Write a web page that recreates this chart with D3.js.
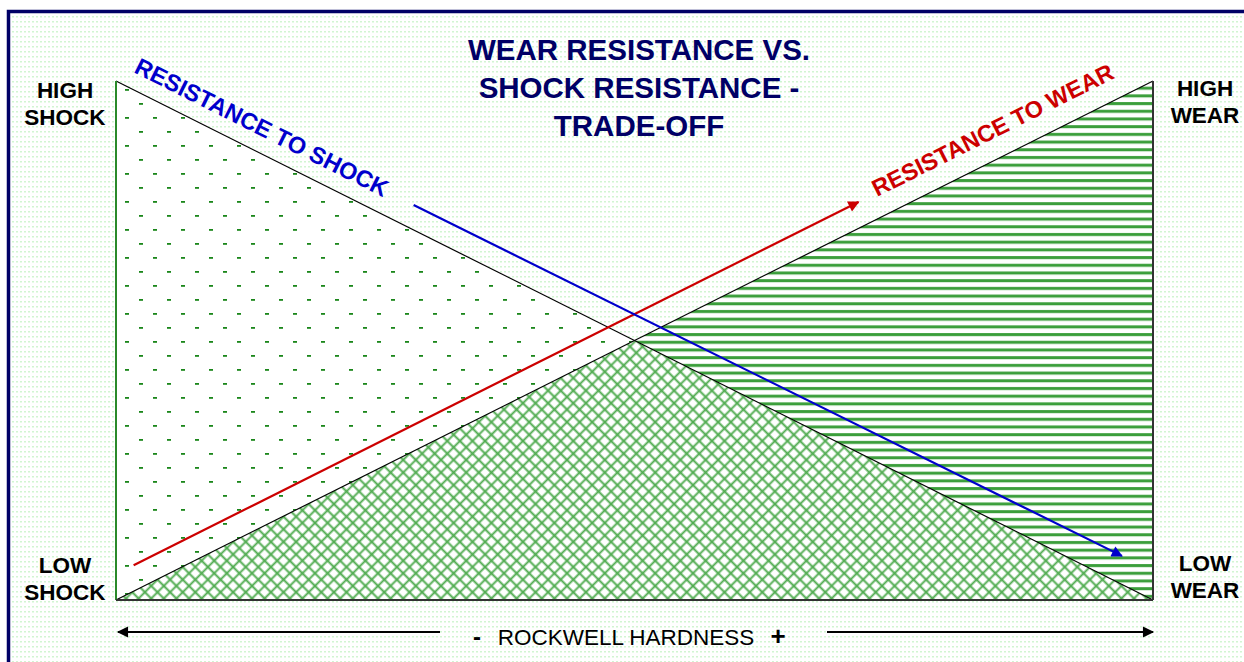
<!DOCTYPE html>
<html>
<head>
<meta charset="utf-8">
<script src="https://cdn.jsdelivr.net/npm/d3@7"></script>
<style>
  html, body { margin: 0; padding: 0; background: #fff; }
  svg { display: block; font-family: Arial, "Liberation Sans", sans-serif; }
</style>
</head>
<body>
<svg id="chart" width="1244" height="662"></svg>
<script>
// Data (hardness 0..1 on x, resistance 0..1 on y)
const shockLine = [[0, 1], [1, 0]];
const wearLine = [[0, 0], [1, 1]];
const shockArrow = [[0.287, 0.761], [0.970, 0.085]];
const wearArrow = [[0.017, 0.067], [0.716, 0.767]];
const titleLines = ['WEAR RESISTANCE VS.', 'SHOCK RESISTANCE -', 'TRADE-OFF'];
const leftLabels = { high: ['HIGH', 'SHOCK'], low: ['LOW', 'SHOCK'] };
const rightLabels = { high: ['HIGH', 'WEAR'], low: ['LOW', 'WEAR'] };
const axisLabel = 'ROCKWELL HARDNESS';

const svg = d3.select('#chart');
const W = 1244, H = 662;

const x = d3.scaleLinear().domain([0, 1]).range([116, 1153]);
const y = d3.scaleLinear().domain([0, 1]).range([600, 81]);

const defs = svg.append('defs');

// background dotted pattern
const bg = defs.append('pattern').attr('id', 'bgdots')
  .attr('width', 4).attr('height', 5).attr('patternUnits', 'userSpaceOnUse');
bg.append('rect').attr('width', 4).attr('height', 5).attr('fill', '#fff');
bg.append('rect').attr('x', 0).attr('y', 1).attr('width', 2).attr('height', 1.5).attr('fill', '#d2f5d2');

// dash pattern (shock only)
const dash = defs.append('pattern').attr('id', 'dashes')
  .attr('width', 28).attr('height', 28).attr('patternUnits', 'userSpaceOnUse')
  .attr('x', x(0) + 9).attr('y', y(1) + 8);
dash.append('rect').attr('width', 28).attr('height', 28).attr('fill', '#fff');
dash.append('rect').attr('x', 0).attr('y', 0).attr('width', 4).attr('height', 1.8).attr('fill', '#1a861a');
dash.append('rect').attr('x', 14).attr('y', 14).attr('width', 4).attr('height', 1.8).attr('fill', '#1a861a');

// horizontal stripes (wear only)
const stripes = defs.append('pattern').attr('id', 'stripes')
  .attr('width', 10).attr('height', 7.7).attr('patternUnits', 'userSpaceOnUse');
stripes.append('rect').attr('width', 10).attr('height', 7.7).attr('fill', '#fff');
stripes.append('rect').attr('y', 2).attr('width', 10).attr('height', 3).attr('fill', '#3a9e3a');

// crosshatch (both): square grid rotated 45deg
const cs = 12.6 / Math.SQRT2;
const hatch = defs.append('pattern').attr('id', 'hatch')
  .attr('width', cs).attr('height', cs).attr('patternUnits', 'userSpaceOnUse')
  .attr('patternTransform', 'rotate(45)');
hatch.append('rect').attr('width', cs).attr('height', cs).attr('fill', '#fff');
hatch.append('path').attr('d', `M0,${cs / 2} L${cs},${cs / 2} M${cs / 2},0 L${cs / 2},${cs}`)
  .attr('stroke', '#4fab4f').attr('stroke-width', 1.9).attr('fill', 'none');

// arrow markers
function marker(id, color, size) {
  defs.append('marker').attr('id', id)
    .attr('viewBox', '0 0 10 10').attr('refX', 9).attr('refY', 5)
    .attr('markerWidth', size).attr('markerHeight', size * 0.8)
    .attr('markerUnits', 'userSpaceOnUse').attr('orient', 'auto-start-reverse')
    .append('path').attr('d', 'M0,0 L10,5 L0,10 z').attr('fill', color);
}
marker('arRed', '#cc0000', 14);
marker('arBlue', '#0000cc', 14);
marker('arBlack', '#000', 14);

// background + border
svg.append('rect').attr('width', W).attr('height', H).attr('fill', '#fff');
svg.append('rect').attr('x', 10).attr('y', 13).attr('width', W).attr('height', H)
  .attr('fill', 'url(#bgdots)');
svg.append('rect').attr('x', 8.5).attr('y', 11.5).attr('width', W + 20).attr('height', H + 20)
  .attr('fill', 'none').attr('stroke', '#000066').attr('stroke-width', 3.5);

// regions
const cross = [1 / 2, 1 / 2];
const line = d3.line().x(d => x(d[0])).y(d => y(d[1]));
svg.append('path').attr('d', line([[0, 1], [0, 0], cross]) + 'Z').attr('fill', 'url(#dashes)');
svg.append('path').attr('d', line([cross, [1, 1], [1, 0]]) + 'Z').attr('fill', 'url(#stripes)');
svg.append('path').attr('d', line([[0, 0], cross, [1, 0]]) + 'Z').attr('fill', 'url(#hatch)');

// diagonal boundary lines
[shockLine, wearLine].forEach(l => {
  svg.append('path').attr('d', line(l)).attr('stroke', '#000').attr('stroke-width', 1.2).attr('fill', 'none');
});

// frame edges
svg.append('line').attr('x1', x(0)).attr('x2', x(0)).attr('y1', y(1)).attr('y2', y(0))
  .attr('stroke', '#2a8a2a').attr('stroke-width', 2);
svg.append('line').attr('x1', x(1)).attr('x2', x(1)).attr('y1', y(1)).attr('y2', y(0))
  .attr('stroke', '#333').attr('stroke-width', 2);
svg.append('line').attr('x1', x(0)).attr('x2', x(1)).attr('y1', y(0)).attr('y2', y(0))
  .attr('stroke', '#333').attr('stroke-width', 2);

// arrows
svg.append('path').attr('d', line(wearArrow)).attr('stroke', '#cc0000').attr('stroke-width', 2.2)
  .attr('fill', 'none').attr('marker-end', 'url(#arRed)');
svg.append('path').attr('d', line(shockArrow)).attr('stroke', '#0000cc').attr('stroke-width', 2.2)
  .attr('fill', 'none').attr('marker-end', 'url(#arBlue)');

// slanted labels
const ang = Math.atan2(y(0) - y(1), x(1) - x(0)) * 180 / Math.PI;
svg.append('text').attr('transform', `translate(133,72) rotate(${ang})`)
  .attr('font-size', 23.5).attr('font-weight', 'bold').attr('fill', '#0000cc')
  .text('RESISTANCE TO SHOCK');
svg.append('text').attr('transform', `translate(877,197) rotate(${-ang})`)
  .attr('font-size', 23.5).attr('font-weight', 'bold').attr('fill', '#cc0000')
  .text('RESISTANCE TO WEAR');

// title
svg.append('g').selectAll('text').data(titleLines).join('text')
  .attr('x', 639).attr('y', (d, i) => 60 + i * 38)
  .attr('text-anchor', 'middle').attr('font-size', 29.5).attr('font-weight', 'bold')
  .attr('fill', '#000066').text(d => d);

// side labels
function sideLabel(lines, cx, top) {
  svg.append('g').selectAll('text').data(lines).join('text')
    .attr('x', cx).attr('y', (d, i) => top + i * 27)
    .attr('text-anchor', 'middle').attr('font-size', 22.5).attr('font-weight', 'bold')
    .attr('fill', '#000').text(d => d);
}
sideLabel(leftLabels.high, 65, 98);
sideLabel(leftLabels.low, 65, 573);
sideLabel(rightLabels.high, 1205, 96);
sideLabel(rightLabels.low, 1205, 571);

// hardness axis
const ay = 632;
svg.append('line').attr('x1', 440).attr('x2', x(0) + 2).attr('y1', ay).attr('y2', ay)
  .attr('stroke', '#000').attr('stroke-width', 2).attr('marker-end', 'url(#arBlack)');
svg.append('line').attr('x1', 827).attr('x2', x(1)).attr('y1', ay).attr('y2', ay)
  .attr('stroke', '#000').attr('stroke-width', 2).attr('marker-end', 'url(#arBlack)');
svg.append('text').attr('x', 477).attr('y', 645).attr('text-anchor', 'middle')
  .attr('font-size', 24).attr('font-weight', 'bold').text('-');
svg.append('text').attr('x', 626).attr('y', 645).attr('text-anchor', 'middle')
  .attr('font-size', 22.5).text(axisLabel);
svg.append('text').attr('x', 778).attr('y', 645).attr('text-anchor', 'middle')
  .attr('font-size', 26).attr('font-weight', 'bold').text('+');
</script>
</body>
</html>
